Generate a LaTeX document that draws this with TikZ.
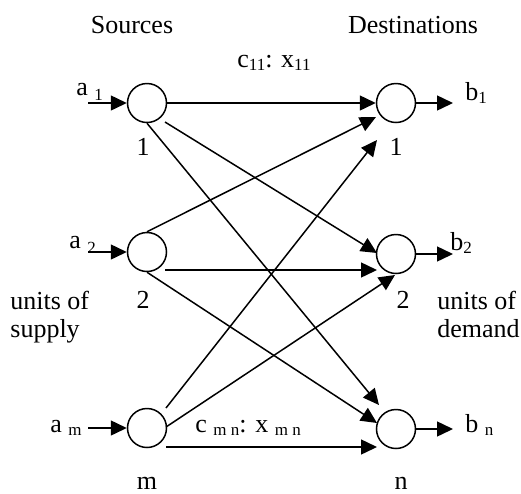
\documentclass[tikz,border=0pt]{standalone}
\usepackage{fontspec}
\setmainfont{Liberation Serif}
\usetikzlibrary{arrows.meta,calc}
\newcommand{\sbs}[1]{\raisebox{-1.5pt}{\fontsize{8.5}{9}\selectfont #1}}
\newcommand{\sbl}[1]{\raisebox{-2.5pt}{\fontsize{8.5}{9}\selectfont #1}}
\begin{document}
\begin{tikzpicture}[x=0.5pt,y=-0.5pt,
  every node/.style={font=\fontsize{13}{14.5}\selectfont},
  nd/.style={circle,draw,line width=0.75pt,minimum size=19.5pt,inner sep=0pt},
  arr/.style={line width=0.75pt,-{Triangle[length=8pt,width=7.5pt]}},
  lbl/.style={inner sep=0pt,anchor=base},
  lblw/.style={inner sep=0pt,anchor=base west}]
\useasboundingbox (0,0) rectangle (521,494);

% nodes
\node[nd] (s1) at (147,103) {};
\node[nd] (s2) at (147,252) {};
\node[nd] (sm) at (147,428) {};
\node[nd] (d1) at (396,103) {};
\node[nd] (d2) at (396,254) {};
\node[nd] (dn) at (396,429) {};

% free ends
\coordinate (ia1) at (88,103);
\coordinate (ia2) at (88,252);
\coordinate (iam) at (88,428);
\coordinate (ob1) at (453,103);
\coordinate (ob2) at (453,254);
\coordinate (obn) at (453,429);

% supply / demand arrows
\draw[arr] (ia1) -- (s1.west);
\draw[arr] (ia2) -- (s2.west);
\draw[arr] (iam) -- (sm.west);
\draw[arr] (d1.east) -- (ob1);
\draw[arr] (d2.east) -- (ob2);
\draw[arr] (dn.east) -- (obn);

% transport arcs
\draw[arr] (s1.east) -- (d1.west);
\draw[arr] ($(s1)+(18,19)$) -- ($(d2)+(-19,-1)$);
\draw[arr] (s1.south) -- ($(dn)+(-17,-24)$);
\draw[arr] (s2.north) -- ($(d1)+(-20,14)$);
\draw[arr] ($(s2)+(18,18)$) -- ($(d2)+(-19,16)$);
\draw[arr] (s2.south) -- ($(dn)+(-19,-6)$);
\draw[arr] ($(sm)+(19,-20)$) -- ($(d1)+(-19,37)$);
\draw[arr] ($(sm)+(19,-1)$) -- ($(d2)+(-1,21)$);
\draw[arr] ($(sm)+(19,19)$) -- ($(dn)+(-19,18)$);

% labels
\node[lbl] (tsrc) at (132,33) {Sources};
\node[lbl] (tdst) at (413,33) {Destinations};
\node[lblw] (tc11) at (237,67) {c\sbs{11}: x\sbs{11}};
\node[lblw] (tcmn) at (195,432) {c \sbs{m n}: x \sbs{m n}};

\node[lblw] (ta1) at (76,95) {a \sbl{1}};
\node[lblw] (ta2) at (69,248) {a \sbl{2}};
\node[lblw] (tam) at (50,432) {a \sbs{m}};
\node[lblw] (tb1) at (465,100) {b\sbs{1}};
\node[lblw] (tb2) at (450,250) {b\sbs{2}};
\node[lblw] (tbn) at (465,432) {b \sbs{n}};

\node[lbl] (n1s) at (143,155) {1};
\node[lbl] (n1d) at (396,155) {1};
\node[lbl] (n2s) at (143,308) {2};
\node[lbl] (n2d) at (403,308) {2};
\node[lbl] (nms) at (147,489) {m};
\node[lbl] (nnd) at (401,489) {n};

\node[lblw,align=left] (tsup) at (10,337) {units of\\[-0.5pt]supply};
\node[lblw,align=left] (tdem) at (437,337) {units of\\[-0.5pt]demand};
\end{tikzpicture}
\end{document}
